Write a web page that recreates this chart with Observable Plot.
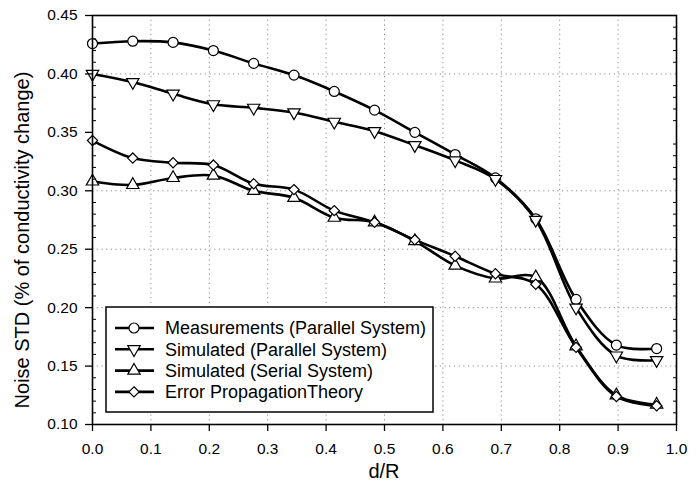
<!DOCTYPE html>
<html>
<head>
<meta charset="utf-8">
<script src="https://cdn.jsdelivr.net/npm/d3@7"></script>
<script src="https://cdn.jsdelivr.net/npm/@observablehq/plot@0.6"></script>
<style>
  html, body { margin: 0; padding: 0; background: #fff; }
  #chart { width: 697px; height: 490px; }
  svg { font-family: "Liberation Sans", Arial, Helvetica, sans-serif; }
</style>
</head>
<body>
<div id="chart"></div>
<script>
// ---- data ----
const dR = [0.000, 0.069, 0.138, 0.207, 0.276, 0.345, 0.414, 0.483, 0.552, 0.621, 0.690, 0.759, 0.828, 0.897, 0.966];
const measurementsParallel = [0.426, 0.428, 0.427, 0.420, 0.409, 0.399, 0.385, 0.369, 0.350, 0.331, 0.311, 0.276, 0.207, 0.168, 0.165];
const simulatedParallel    = [0.400, 0.393, 0.383, 0.374, 0.371, 0.367, 0.359, 0.351, 0.339, 0.326, 0.310, 0.275, 0.200, 0.159, 0.155];
const simulatedSerial      = [0.308, 0.305, 0.311, 0.313, 0.300, 0.294, 0.277, 0.273, 0.257, 0.236, 0.225, 0.226, 0.167, 0.125, 0.117];
const errorPropagation     = [0.343, 0.328, 0.324, 0.322, 0.306, 0.301, 0.283, 0.273, 0.258, 0.244, 0.229, 0.220, 0.166, 0.124, 0.116];

const seriesNames = [
  "Measurements (Parallel System)",
  "Simulated (Parallel System)",
  "Simulated (Serial System)",
  "Error PropagationTheory"
];
const xTicks = [0.0, 0.1, 0.2, 0.3, 0.4, 0.5, 0.6, 0.7, 0.8, 0.9, 1.0];
const yTicks = [0.10, 0.15, 0.20, 0.25, 0.30, 0.35, 0.40, 0.45];
const xGrid = [0.1, 0.2, 0.3, 0.4, 0.5, 0.6, 0.7, 0.8, 0.9];
const yGrid = [0.15, 0.20, 0.25, 0.30, 0.40];
const yMinor = [0.11,0.12,0.13,0.14,0.16,0.17,0.18,0.19,0.21,0.22,0.23,0.24,0.26,0.27,0.28,0.29,0.31,0.32,0.33,0.34,0.36,0.37,0.38,0.39,0.41,0.42,0.43,0.44];
const xTitle = "d/R";
const yTitle = "Noise STD (% of conductivity change)";

// ---- build table ----
const valuesBySeries = [measurementsParallel, simulatedParallel, simulatedSerial, errorPropagation];
const symbols = ["circle", "triangle", "triangle", "diamond2"];
const rotations = [0, 180, 0, 0];
const radii = [5.0, 4.6, 4.6, 4.6];
const rows = [];
valuesBySeries.forEach((vals, s) => vals.forEach((v, i) => rows.push({series: seriesNames[s], s, x: dR[i], y: v})));

const marks = [
  Plot.ruleX(xGrid, {stroke: "#8a8a8a", strokeWidth: 1, strokeDasharray: "1.2,3.5"}),
  Plot.ruleY(yGrid, {stroke: "#8a8a8a", strokeWidth: 1, strokeDasharray: "1.2,3.5"})
];
seriesNames.forEach((name, s) => {
  marks.push(Plot.line(rows.filter(d => d.s === s), {x: "x", y: "y", stroke: "black", strokeWidth: 2.6, curve: "catmull-rom"}));
});
seriesNames.forEach((name, s) => {
  marks.push(Plot.dot(rows.filter(d => d.s === s), {x: "x", y: "y", symbol: symbols[s], r: radii[s], rotate: rotations[s], fill: "white", stroke: "black", strokeWidth: 1.2}));
});
marks.push(
  Plot.axisY(yMinor, {anchor: "left", tickSize: -4, tickFormat: null, text: null, label: null, stroke: "black"}),
  Plot.axisY(yMinor, {anchor: "right", tickSize: -4, tickFormat: null, text: null, label: null, stroke: "black"}),
  Plot.axisY(yTicks, {anchor: "left", tickSize: 7, tickPadding: 8, tickFormat: d3.format(".2f"), fontSize: 15.5, label: null, stroke: "black", strokeWidth: 1.3, fill: "black"}),
  Plot.axisX(xTicks, {anchor: "bottom", tickSize: 7, tickPadding: 11, tickFormat: d3.format(".1f"), fontSize: 15.5, label: null, stroke: "black", strokeWidth: 1.3, fill: "black"}),
  Plot.frame({stroke: "black", strokeWidth: 1.6})
);

const chart = Plot.plot({
  width: 697,
  height: 490,
  marginLeft: 92,
  marginRight: 21,
  marginTop: 15,
  marginBottom: 66,
  style: {background: "white", color: "black", fontFamily: "'Liberation Sans', Arial, sans-serif"},
  x: {domain: [0, 1.0]},
  y: {domain: [0.10, 0.45]},
  marks
});
document.getElementById("chart").appendChild(chart);

// ---- titles and legend (layout only) ----
const svg = d3.select(chart);
svg.append("text").attr("x", 384).attr("y", 478).attr("text-anchor", "middle")
  .attr("font-size", 20).attr("fill", "black").text(xTitle);
svg.append("text").attr("transform", "translate(29,240) rotate(-90)").attr("text-anchor", "middle")
  .attr("font-size", 20).attr("fill", "black").text(yTitle);

const lg = svg.append("g").attr("text-anchor", "start");
lg.append("rect").attr("x", 106).attr("y", 307).attr("width", 327).attr("height", 105)
  .attr("fill", "white").attr("stroke", "black").attr("stroke-width", 1.5);
const symbolTypes = {circle: d3.symbolCircle, triangle: d3.symbolTriangle, diamond2: d3.symbolDiamond2};
seriesNames.forEach((name, s) => {
  const y = 328 + s * 21.3;
  lg.append("line").attr("x1", 115).attr("x2", 154).attr("y1", y).attr("y2", y)
    .attr("stroke", "black").attr("stroke-width", 2.6);
  lg.append("path")
    .attr("d", d3.symbol(symbolTypes[symbols[s]], Math.PI * radii[s] * radii[s])())
    .attr("transform", `translate(134,${y}) rotate(${rotations[s]})`)
    .attr("fill", "white").attr("stroke", "black").attr("stroke-width", 1.2);
  lg.append("text").attr("x", 165).attr("y", y).attr("dy", "0.36em").attr("text-anchor", "start")
    .attr("font-size", 18).attr("fill", "black").text(name);
});
</script>
</body>
</html>
